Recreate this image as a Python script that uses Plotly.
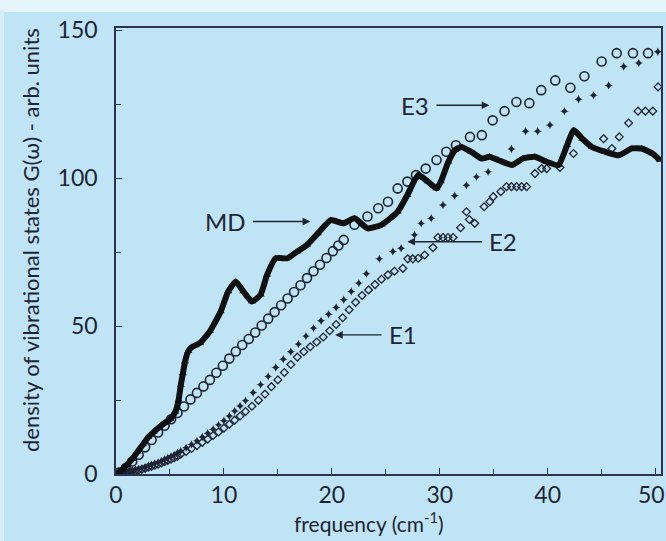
import plotly.graph_objects as go

# ---------------- data ----------------
md_x = [0, 0.5, 1.0, 1.5, 2.0, 2.5, 3.0, 3.5, 4.0, 4.5, 5.0, 5.5, 5.8, 6.0, 6.2, 6.4, 6.7, 7.0,
        7.8, 8.7, 9.7, 10.4, 11.1, 11.8, 12.6, 13.4, 14.0, 14.8, 15.9, 16.8, 17.7, 18.7, 19.9,
        21.1, 22.1, 23.3, 24.6, 26.1, 27.0, 28.0, 28.9, 29.7, 30.1, 30.8, 31.4, 32.0, 32.9,
        33.9, 34.6, 35.4, 36.7, 37.7, 38.8, 39.9, 41.0, 41.8, 42.4, 43.2, 44.1, 45.3, 46.6,
        47.8, 48.7, 49.7, 50.4]
md_y = [0, 1.2, 3, 5, 7.5, 10, 12.5, 14.2, 15.8, 17.2, 18.5, 21, 25, 30, 34, 38, 41.5, 42.8,
        44.3, 48.2, 54.9, 61.7, 65, 61.7, 58.3, 60.6, 67.3, 72.9, 72.9, 75.2, 77.4, 81.3, 85.8,
        84.7, 86.4, 83, 84.2, 88.6, 94.3, 101, 98.8, 96.5, 98.8, 105.5, 109.4, 110.5, 108.9,
        106.6, 107.2, 106.1, 104.4, 106.6, 107.2, 105.5, 104.4, 111.1, 116.2, 113.3, 110.5,
        108.9, 107.7, 110, 110, 108.3, 106.1]

e3_x = [0.3, 0.9, 1.5, 2.1, 2.7, 3.3, 3.9, 4.5, 5.1, 5.7, 6.3, 6.9, 7.5, 8.1, 8.7, 9.3, 9.9,
        10.5, 11.1, 11.7, 12.3, 12.9, 13.5, 14.1, 14.7, 15.3, 15.9, 16.5, 17.1, 17.7, 18.3,
        18.9, 19.5, 20.1, 20.6, 21.1,
        22.1, 23.3, 24.3, 25.2, 26.1, 27.0, 27.8, 28.7, 29.7, 30.6, 31.5, 32.8, 33.9, 34.9,
        36.0, 37.1, 38.3, 39.4, 40.7, 42.1, 43.4, 45.0, 46.4, 47.9, 49.3]
e3_y = [0.5, 2, 4.2, 6.5, 9, 11.5, 14, 16.3, 18.5, 20.6, 22.8, 25.2, 27.4, 29.6, 31.8, 34.2,
        36.6, 39, 41.4, 43.6, 45.6, 47.8, 50.2, 52.5, 54.7, 57, 59.3, 61.5, 63.8, 66.2, 68.5,
        70.7, 73, 75.3, 77.2, 79.1,
        84.2, 87, 89.8, 92, 96.5, 98.8, 101, 103.2, 106.1, 108.9, 111.1, 113.9, 114.5, 119.5,
        122.6, 125.7, 125.3, 129.7, 133, 130.5, 134.4, 139.4, 142.2, 142.2, 142.2]

e2_x = [0.3, 0.6, 0.9, 1.2, 1.5, 1.8, 2.1, 2.4, 2.7, 3.0, 3.3, 3.6, 3.9, 4.2, 4.5, 4.8, 5.1,
        5.4, 5.7, 6.0, 6.5, 7.0, 7.5, 8.0, 8.5,
        9.0, 9.5, 10.0, 10.5, 11.0, 11.5, 12.0, 12.7, 13.4, 14.1, 14.8, 15.5, 16.2, 16.9,
        17.6, 18.3, 19.0, 19.7, 20.4, 21.1, 21.8, 22.5, 23.2, 24.4, 25.65, 26.42, 27.66,
        28.28, 29.21, 30.3, 31.38, 32.47, 33.4, 34.48, 36.65, 37.95, 39.07, 40.21, 41.55,
        42.86, 44.25, 45.65, 47.04, 48.44, 50.2]
e2_y = [0.2, 0.4, 0.6, 0.8, 1.1, 1.4, 1.7, 2.0, 2.3, 2.8, 3.2, 3.6, 4.0, 4.4, 5, 5.5, 6.0,
        6.5, 7.2, 7.8, 8.9, 10, 11.2, 12.5, 13.8,
        15.1, 16.6, 18, 19.6, 21.3, 23, 24.8, 27.5, 30.2, 33, 36, 38.8, 41.3, 43.9, 46.6,
        49.3, 51.8, 54, 56.3, 58.9, 61.7, 64.5, 67.7, 72.7, 75.2, 76.3, 80.8, 84.7, 86.4,
        90.9, 94, 97.6, 100.4, 102.1, 109.8, 115.8, 115.8, 117.9, 122.6, 126.6, 128, 131.3,
        137.7, 138.9, 142.7]

e1_x = [0.3, 0.6, 0.9, 1.2, 1.5, 1.8, 2.1, 2.4, 2.7, 3.0, 3.3, 3.6, 3.9, 4.2, 4.5, 4.8, 5.1,
        5.4, 5.7, 6.0, 6.5, 7.0, 7.5, 8.0, 8.5,
        9.0, 9.5, 10.0, 10.5, 11.0, 11.5, 12.0, 12.6, 13.2, 13.8, 14.4, 15.0, 15.6, 16.2,
        16.8, 17.4, 18.0, 18.6, 19.2, 19.8, 20.4, 21.0, 21.6, 22.2, 22.8, 23.4, 24.0, 24.6,
        25.2, 25.8, 26.58, 27.04, 27.5, 28.0, 28.6, 29.37, 29.83, 30.3, 30.76, 31.23, 31.93,
        32.47, 32.74, 33.24, 34.11, 34.63, 34.95, 35.66, 36.19, 36.65, 37.12, 37.58, 38.05,
        38.82, 39.44, 39.9, 41.14, 42.39, 45.18, 45.95, 46.63, 47.5, 48.37, 49.05, 49.74,
        50.23]
e1_y = [0.1, 0.3, 0.5, 0.6, 0.9, 1.1, 1.3, 1.6, 1.9, 2.3, 2.6, 3.0, 3.3, 3.7, 4.2, 4.6, 5.0,
        5.5, 6.0, 6.7, 7.6, 8.6, 9.6, 10.7, 11.8,
        13, 14.2, 15.5, 16.8, 18.2, 19.6, 21.1, 22.9, 24.9, 27, 29.5, 31.8, 34.3, 37, 39.5,
        41.3, 43, 44.6, 46.3, 48.4, 50.5, 52.8, 55.5, 58, 60.3, 62.2, 64, 65.8, 67.3, 68.5,
        69.5, 72.7, 72.7, 72.9, 74, 76.5, 79.9, 79.9, 79.9, 79.9, 83.2, 88.6, 86, 84.7, 90.3,
        92, 93.7, 95.4, 97.1, 97.1, 97.1, 97.1, 97.1, 101.5, 103.2, 103.2, 103.6, 108.3,
        113.3, 110, 113.9, 118.6, 122.6, 122.6, 122.6, 130.8]

x_ticks = [0, 10, 20, 30, 40, 50]
x_ticktext = ["0", "10", "20", "30", "40", ""]   # "50" is placed as its own label below
y_ticks = [0, 50, 100, 150]

labels = ["MD", "E3", "E2", "E1"]
label_xy = [(10.1, 85.3), (27.7, 124.6), (35.9, 78.5), (26.6, 47.0)]
arrow_tip = [(18.0, 85.3), (34.6, 124.6), (27.0, 78.5), (20.3, 47.0)]

x_title = "frequency (cm<sup>-1</sup>)"
y_title = "density of vibrational states G(\u03c9) - arb. units"

# ---------------- figure ----------------
BG = "#bfe4f6"
INK = "#1e2433"
AX = "#2a3450"
FONT = "Lato"

fig = go.Figure()
fig.add_trace(go.Scatter(x=e1_x, y=e1_y, mode="markers",
                         marker=dict(symbol="diamond-open", size=6, color=INK,
                                     line=dict(width=1.3, color=INK))))
fig.add_trace(go.Scatter(x=e2_x, y=e2_y, mode="markers",
                         marker=dict(symbol="star-diamond", size=6, color=INK,
                                     line=dict(width=0))))
fig.add_trace(go.Scatter(x=e3_x, y=e3_y, mode="markers",
                         marker=dict(symbol="circle-open", size=9, color=INK,
                                     line=dict(width=1.6, color=INK))))
fig.add_trace(go.Scatter(x=md_x, y=md_y, mode="lines+markers",
                         line=dict(color="#111111", width=6, shape="spline", smoothing=0.5),
                         marker=dict(symbol="triangle-up", size=7, color="#111111")))

for t, (lx, ly), (tx, ty) in zip(labels, label_xy, arrow_tip):
    fig.add_annotation(x=tx, y=ty, ax=lx, ay=ly, xref="x", yref="y", axref="x", ayref="y",
                       text=t, showarrow=True, arrowhead=2, arrowsize=1.1, arrowwidth=1.4,
                       arrowcolor=INK, standoff=0, startstandoff=6,
                       font=dict(family=FONT, size=24, color=INK))

# last x tick label, nudged left so it stays inside the page
fig.add_annotation(x=x_ticks[-1], y=0, xref="x", yref="paper", text=str(x_ticks[-1]),
                   showarrow=False, xanchor="center", yanchor="top", xshift=-4, yshift=-4,
                   font=dict(family=FONT, size=23, color=INK))
# axis titles
fig.add_annotation(x=(369 - 116) / 545, y=(474 - 538) / 446, xref="paper", yref="paper",
                   text=x_title, showarrow=False, xanchor="center", yanchor="bottom",
                   font=dict(family=FONT, size=21, color=INK))
fig.add_annotation(x=(30 - 116) / 545, y=(474 - 240) / 446, xref="paper", yref="paper",
                   text=y_title, showarrow=False, textangle=-90, xanchor="center",
                   yanchor="middle", font=dict(family=FONT, size=22, color=INK))

# lighter scan border at top and left
fig.add_shape(type="rect", xref="paper", yref="paper", x0=-0.3, x1=1.02, y0=1.0 + 16/446,
              y1=1.0 + 30/446, fillcolor="#e6f4fb", line=dict(width=0), layer="below")
fig.add_shape(type="rect", xref="paper", yref="paper", x0=-116/545, x1=-112/545, y0=-0.2,
              y1=1.04, fillcolor="#d6eefa", line=dict(width=0), layer="below")

fig.update_layout(
    width=666, height=541,
    margin=dict(l=116, r=5, t=28, b=67, autoexpand=False),
    paper_bgcolor=BG, plot_bgcolor=BG,
    showlegend=False,
    font=dict(family=FONT, color=INK),
)
fig.update_xaxes(range=[0, 50.5], tickmode="array", tickvals=x_ticks, ticktext=x_ticktext,
                 ticks="inside", ticklen=6, tickwidth=1.2, tickcolor=AX,
                 minor=dict(tickvals=[5, 15, 25, 35, 45], ticks="inside", ticklen=5,
                            tickwidth=1.2, tickcolor=AX),
                 showline=True, linecolor=AX, linewidth=1.5, mirror=True,
                 showgrid=False, zeroline=False, automargin=False,
                 tickfont=dict(family=FONT, size=23, color=INK), ticklabelstandoff=0)
fig.update_yaxes(range=[0, 150.7], tickmode="array", tickvals=y_ticks,
                 ticks="inside", ticklen=6, tickwidth=1.2, tickcolor=AX,
                 minor=dict(tickvals=[25, 75, 125], ticks="inside", ticklen=5,
                            tickwidth=1.2, tickcolor=AX),
                 showline=True, linecolor=AX, linewidth=1.5, mirror=True,
                 showgrid=False, zeroline=False, automargin=False,
                 tickfont=dict(family=FONT, size=23, color=INK), ticklabelstandoff=12)

fig.write_html("out.html", config={"displayModeBar": False},
               post_script="document.body.style.margin='0';document.body.style.padding='0';"
                           "document.documentElement.style.background='#bfe4f6';")
